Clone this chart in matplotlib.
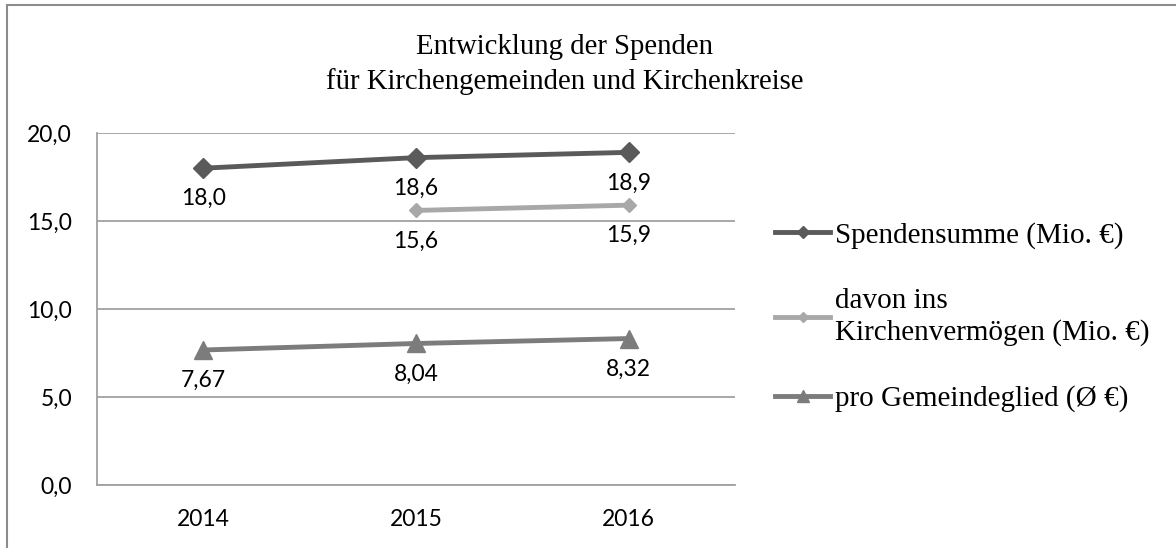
import matplotlib.pyplot as plt
from matplotlib.patches import Rectangle
import numpy as np

years = ['2014', '2015', '2016']
spendensumme = [18.0, 18.6, 18.9]
kirchenvermoegen = [np.nan, 15.6, 15.9]
pro_glied = [7.67, 8.04, 8.32]

labels = ['Spendensumme (Mio. €)',
          'davon ins\nKirchenvermögen (Mio. €)',
          'pro Gemeindeglied (Ø €)']

serif = ['Liberation Serif', 'DejaVu Serif']
sans = ['Lato', 'DejaVu Sans']

fig = plt.figure(figsize=(11.76, 5.48), dpi=100)
ax = fig.add_axes([0.0825, 0.115, 0.5425, 0.6423])

x = np.arange(len(years))
ax.plot(x, spendensumme, color='#5a5a5a', lw=3.5, marker='D', ms=10, label=labels[0])
ax.plot(x, kirchenvermoegen, color='#a8a8a8', lw=3.5, marker='D', ms=7, label=labels[1])
ax.plot(x, pro_glied, color='#7c7c7c', lw=3.5, marker='^', ms=13, label=labels[2])

# Datenbeschriftungen unter den Punkten
for vals, fmt in [(spendensumme, '{:.1f}'), (kirchenvermoegen, '{:.1f}'), (pro_glied, '{:.2f}')]:
    for xi, v in zip(x, vals):
        if np.isnan(v):
            continue
        ax.annotate(fmt.format(v).replace('.', ','), (xi, v), xytext=(0, -22),
                    textcoords='offset points', ha='center', va='center',
                    fontsize=16.5, family=sans)

ax.set_xlim(-0.5, 2.5)
ax.set_ylim(0, 20)
ax.set_yticks([0, 5, 10, 15, 20])
ax.set_yticklabels([f'{t:.1f}'.replace('.', ',') for t in [0, 5, 10, 15, 20]], family=sans, fontsize=16.5)
ax.set_xticks(x)
ax.set_xticklabels(years, family=sans, fontsize=16.5)
ax.tick_params(axis='y', length=0, pad=18)
ax.tick_params(axis='x', length=0, pad=17)
ax.grid(axis='y', color='#a0a0a0', lw=1.3)
ax.set_axisbelow(True)
for s in ['top', 'right']:
    ax.spines[s].set_visible(False)
for s in ['left', 'bottom']:
    ax.spines[s].set_color('#a0a0a0')
    ax.spines[s].set_linewidth(1.3)

fig.text(0.48, 0.882, 'Entwicklung der Spenden\nfür Kirchengemeinden und Kirchenkreise',
         ha='center', va='center', fontsize=20.7, family=serif, linespacing=1.38)

leg = fig.legend(loc='center left', bbox_to_anchor=(0.659, 0.4215), frameon=False,
                 prop={'family': serif, 'size': 21}, handlelength=1.9, handletextpad=0.17,
                 borderpad=0, borderaxespad=0, labelspacing=1.36)
for h, ms in zip(leg.legend_handles, [6, 5, 9]):
    h.set_markersize(ms)

# Rahmen um das Diagramm
fig.add_artist(Rectangle((7 / 1176, -0.05), 1.1, (548 - 5) / 548 + 0.05, transform=fig.transFigure,
                         fill=False, edgecolor='#8c8c8c', lw=1.5))

fig.savefig('out.png', dpi=100)
